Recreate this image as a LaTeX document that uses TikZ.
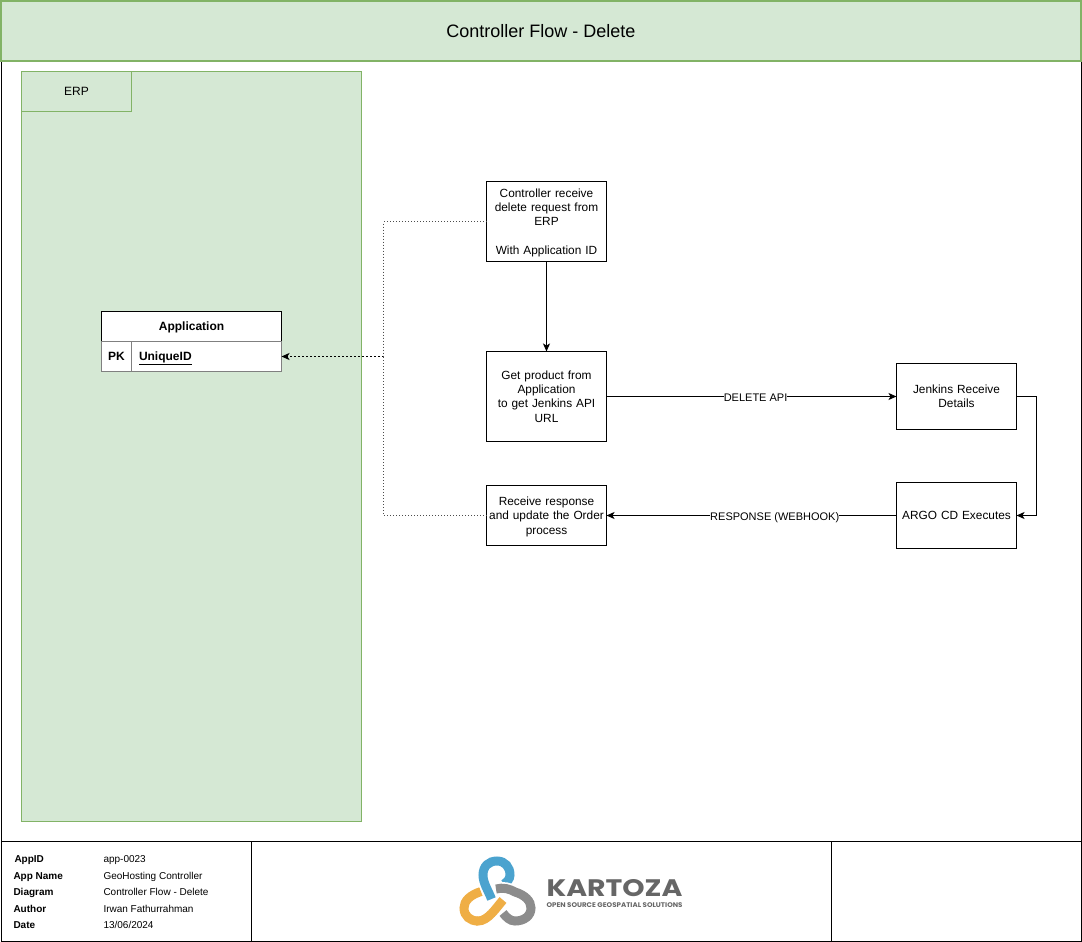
\documentclass[tikz,border=0pt]{standalone}
\usepackage{fontspec}
\setmainfont{Liberation Sans}
\newfontfamily\logofont{Poppins}
\usetikzlibrary{arrows.meta}
\definecolor{erpfill}{HTML}{D5E8D4}
\definecolor{erpline}{HTML}{82B366}
\definecolor{logoblue}{HTML}{4BA3CF}
\definecolor{logoorange}{HTML}{EFAE45}
\definecolor{logogrey}{HTML}{8C8C8C}
\definecolor{logotext}{HTML}{666666}
\tikzset{
  flowbox/.style={draw,fill=white,inner sep=0pt,outer sep=0pt,align=center,text width=#1,font=\fontsize{11.85}{14.3}\selectfont},
  rowcell/.style={draw=gray,fill=white,inner sep=0pt,outer sep=0pt,minimum height=30pt,font=\fontsize{12}{14}\selectfont\bfseries},
  edgelabel/.style={fill=white,inner sep=0pt,font=\fontsize{11}{13}\selectfont},
  infotext/.style={anchor=base west,inner sep=0pt,font=\fontsize{10}{12}\selectfont},
  infokey/.style={infotext,font=\fontsize{10}{12}\selectfont\bfseries},
  flow/.style={-{Stealth[length=8pt,width=7pt,inset=2pt]}},
  sparse/.style={dash pattern=on 1pt off 2pt},
  logoring/.style={line width=9pt},
  logohalo/.style={line width=12.5pt,white}
}
\newcommand{\downstrut}{\rule{0pt}{11pt}}
\begin{document}
\begin{tikzpicture}[x=1pt,y=-1pt,line width=1pt]
  \useasboundingbox (0,0) rectangle (1082,942);
  % frame and title
  \draw (1.5,61) rectangle (1081,841);
  \draw[erpline,fill=erpfill,line width=2pt] (1,1) rectangle (1081,61);
  \node[font=\fontsize{18}{21}\selectfont] (title) at (541,31) {Controller Flow - Delete};
  % ERP group
  \draw[erpline,fill=erpfill] (21.5,71.5) rectangle (361.5,821.5);
  \draw[erpline] (21.5,71.5) rectangle (131.5,111.5);
  \node[font=\fontsize{12}{14}\selectfont] (erp) at (76.5,91) {ERP};
  % application table
  \node[draw,fill=white,inner sep=0pt,outer sep=0pt,minimum width=180pt,minimum height=30pt,text depth=0.6pt,font=\fontsize{12}{14}\selectfont\bfseries] (apphead) at (191.5,326.5) {Application};
  \node[rowcell,minimum width=30pt] (apppk) at (116.5,356.5) {PK};
  \node[rowcell,minimum width=150pt,text width=135pt,align=left,text depth=1pt] (appid) at (206.5,356.5) {\underline{UniqueID}};
  % flow boxes
  \node[flowbox=120pt,minimum height=80pt] (ctrl) at (546.5,221.5) {\downstrut Controller receive\\delete request from\\ERP\\[14.3pt]With Application ID};
  \node[flowbox=120pt,minimum height=90pt] (getprod) at (546.5,396.5) {Get product from\\Application\\to get Jenkins API\\URL};
  \node[flowbox=120pt,minimum height=60pt] (receive) at (546.5,515.5) {\downstrut Receive response\\and update the Order\\process};
  \node[flowbox=120pt,minimum height=66pt] (jenkins) at (956.5,396.5) {Jenkins Receive\\Details};
  \node[flowbox=120pt,minimum height=66pt] (argo) at (956.5,515.5) {ARGO CD Executes};
  % connectors
  \coordinate (elbow) at (383.5,356.5);
  \coordinate (elbowtop) at (383.5,221.5);
  \coordinate (elbowbot) at (383.5,515.5);
  \coordinate (sideup) at (1036.5,396.5);
  \coordinate (sidedown) at (1036.5,515.5);
  \draw[flow] (ctrl.south) -- (getprod.north);
  \draw[flow] (getprod.east |- sideup) -- node[edgelabel,pos=.514,yshift=-1pt] {DELETE API} (jenkins.west |- sideup);
  \draw[flow] (jenkins.east |- sideup) -- (sideup) -- (sidedown) -- (argo.east |- sidedown);
  \draw[flow] (argo.west |- sidedown) -- node[edgelabel,pos=.42,yshift=-2pt] {RESPONSE (WEBHOOK)} (receive.east);
  \draw[flow,dash pattern=on 2pt off 2pt] (elbow) -- (appid.east);
  \draw[sparse,black!70] (ctrl.west |- elbowtop) -- (elbowtop) -- (elbow);
  \draw[sparse,black!70] (receive.west) -- (elbowbot) -- (elbow);
  % info block
  \draw (1,841) rectangle (1081,941);
  \draw (251.5,841) -- (251.5,941);
  \draw (831.5,841) -- (831.5,941);
  \node[infokey] (keyid) at (14,862.5) {AppID};
  \node[infokey] (keyname) at (13,879) {App Name};
  \node[infokey] (keydiagram) at (13,895.5) {Diagram};
  \node[infokey] (keyauthor) at (13,912) {Author};
  \node[infokey] (keydate) at (13,928) {Date};
  \node[infotext] (valid) at (103,862.5) {app-0023};
  \node[infotext] (valname) at (103,879) {GeoHosting Controller};
  \node[infotext] (valdiagram) at (103,895.5) {Controller Flow - Delete};
  \node[infotext] (valauthor) at (103,912) {Irwan Fathurrahman};
  \node[infotext] (valdate) at (103,928) {13/06/2024};
  % logo
  \draw[logoring,logoorange] (481,891.5) .. controls (470,895) and (464,901) .. (464,908) .. controls (464,916) and (470,921) .. (478,921);
  \draw[logohalo] (491.5,899) .. controls (488,890) and (483,883) .. (483,875);
  \draw[logoring,logoblue] (491.5,899) .. controls (488,890) and (483,883) .. (483,875) .. controls (483,866) and (489,861) .. (497,861) .. controls (505,861) and (510,867) .. (510,875) .. controls (510,879) and (507,882) .. (504,884);
  \draw[logohalo] (496,889) .. controls (503,887) and (510,889) .. (515,892);
  \draw[logoring,logogrey] (496,889) .. controls (503,887) and (510,889) .. (515,892) .. controls (525,895) and (531,901) .. (531,908) .. controls (531,916) and (524,921) .. (515,921) .. controls (510,921) and (506,917) .. (503,913);
  \draw[logohalo] (488,916) .. controls (493,912) and (498,906) .. (503,900);
  \draw[logoring,logoorange] (476,921) -- (478,921) .. controls (488,921) and (496,908) .. (503,900);
  \node[anchor=base west,inner sep=0pt,text=logotext,font=\logofont\bfseries] (kartoza) at (546,896.5) {\resizebox{136pt}{17pt}{KARTOZA}};
  \node[anchor=base west,inner sep=0pt,text=logotext,font=\logofont\bfseries] (tagline) at (546,907.7) {\resizebox{136pt}{4.8pt}{OPEN SOURCE GEOSPATIAL SOLUTIONS}};
\end{tikzpicture}
\end{document}
